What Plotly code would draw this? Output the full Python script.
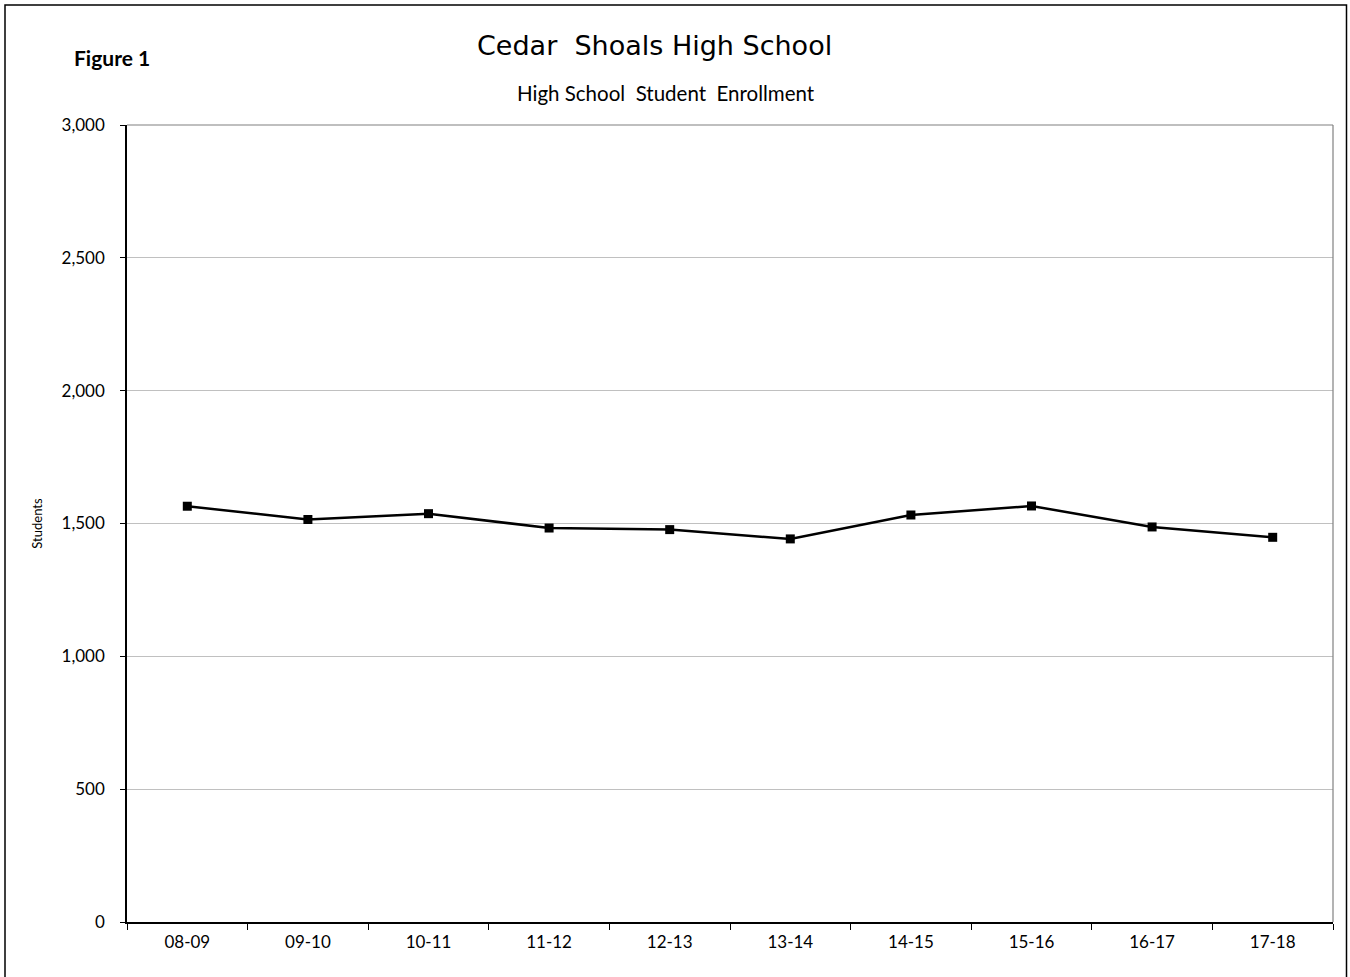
import plotly.graph_objects as go

years = ["08-09", "09-10", "10-11", "11-12", "12-13", "13-14", "14-15", "15-16", "16-17", "17-18"]
students = [1565, 1515, 1537, 1483, 1477, 1442, 1532, 1566, 1487, 1448]
y_ticks = [0, 500, 1000, 1500, 2000, 2500, 3000]

fig = go.Figure()
fig.add_trace(go.Scatter(
    x=years, y=students, mode="lines+markers",
    line=dict(color="black", width=2.5),
    marker=dict(symbol="square", size=9, color="black"),
    showlegend=False,
))

W, H = 1350, 977
L, R, T, B = 127, 1333, 124.5, 921.7
pw, ph = R - L, B - T

def px(x):
    return (x - L) / pw

def py(y):
    return (B - y) / ph

fig.update_layout(
    width=W, height=H,
    margin=dict(l=L, r=W - R, t=T, b=H - B),
    paper_bgcolor="white", plot_bgcolor="white",
    font=dict(family="Lato, Open Sans, sans-serif", size=17, color="black"),
    xaxis=dict(
        type="category", tickson="boundaries", ticks="outside", ticklen=6,
        tickcolor="black", tickwidth=1, showline=True, linecolor="black",
        linewidth=1.5, showgrid=False, tickfont=dict(size=17),
        range=[-0.5, 9.5], ticklabelstandoff=4,
    ),
    yaxis=dict(
        range=[0, 3000], tickvals=y_ticks, tickformat=",d",
        ticks="outside", ticklen=5, tickcolor="black", tickwidth=1,
        showline=True, linecolor="black", linewidth=1.5,
        showgrid=True, gridcolor="#c0c0c0", gridwidth=1,
        zeroline=False, tickfont=dict(size=17), ticklabelstandoff=12,
        title=dict(text="Students", font=dict(size=13), standoff=16),
    ),
)

# plot area top and right border (grey)
fig.add_shape(type="line", xref="paper", yref="paper", x0=0, x1=1, y0=1, y1=1,
              line=dict(color="#808080", width=1.2))
fig.add_shape(type="line", xref="paper", yref="paper", x0=1, x1=1, y0=0, y1=1,
              line=dict(color="#808080", width=1.2))
# outer border (bottom edge lies below the page)
fig.add_shape(type="rect", xref="paper", yref="paper",
              x0=px(5), x1=px(1346.5), y0=py(990), y1=py(4.5),
              line=dict(color="black", width=1.5), layer="below")

fig.add_annotation(text="Cedar  Shoals High School", xref="paper", yref="paper",
                   x=px(654), y=py(45), xanchor="center", yanchor="middle",
                   showarrow=False,
                   font=dict(family="DejaVu Sans, Verdana, sans-serif", size=27, color="black"))
fig.add_annotation(text="High School  Student  Enrollment", xref="paper", yref="paper",
                   x=px(666), y=py(92), xanchor="center", yanchor="middle",
                   showarrow=False,
                   font=dict(family="Lato, Open Sans, sans-serif", size=20.5, color="black"))
fig.add_annotation(text="<b>Figure 1</b>", xref="paper", yref="paper",
                   x=px(72), y=py(57), xanchor="left", yanchor="middle",
                   showarrow=False,
                   font=dict(family="Lato, Open Sans, sans-serif", size=21, color="black"))

fig.write_html("out.html", config={"displayModeBar": False},
               post_script="document.body.style.margin='0';")
